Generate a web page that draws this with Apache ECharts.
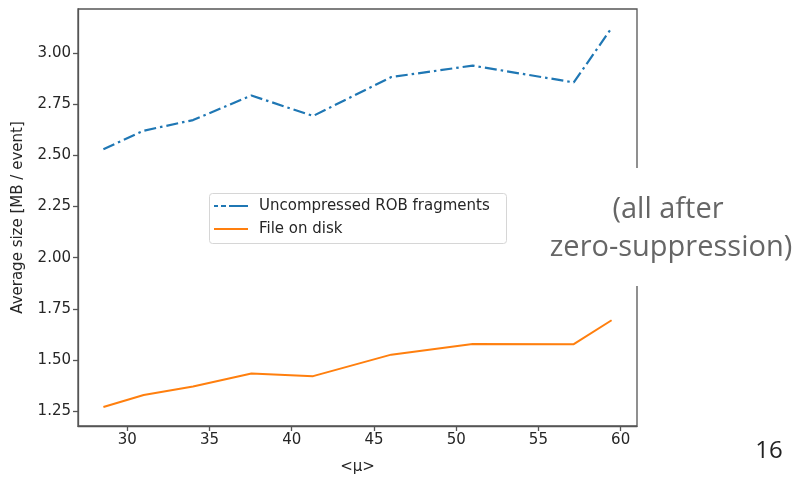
<!DOCTYPE html>
<html>
<head>
<meta charset="utf-8">
<script src="https://cdn.jsdelivr.net/npm/echarts@6/dist/echarts.min.js"></script>
<style>
  html, body { margin: 0; padding: 0; background: #fff; }
  #chart { width: 798px; height: 477px; }
</style>
</head>
<body>
<div id="chart"></div>
<script>
// Mean pile-up <μ> for each run
const mu = [28.55, 31.0, 34.0, 37.55, 41.3, 46.05, 51.0, 57.15, 59.45];
// Average event size in MB
const uncompressedROB = [2.53, 2.62, 2.672, 2.792, 2.692, 2.882, 2.938, 2.856, 3.122];
const fileOnDisk = [1.27, 1.329, 1.37, 1.434, 1.421, 1.526, 1.578, 1.577, 1.694];

const xTicks = [30, 35, 40, 45, 50, 55, 60];
const yTicks = [1.25, 1.50, 1.75, 2.00, 2.25, 2.50, 2.75, 3.00];

const seriesNames = ['Uncompressed ROB fragments', 'File on disk'];

// axis limits padded by 5% of the data range on each side
function padded(values) {
  const lo = Math.min(...values), hi = Math.max(...values);
  const m = (hi - lo) * 0.05;
  return [lo - m, hi + m];
}
const [xMin, xMax] = padded(mu);
const [yMin, yMax] = padded(uncompressedROB.concat(fileOnDisk));

const pairs = (xs, ys) => xs.map((x, i) => [x, ys[i]]);

const ink = '#262626';
const tickFont = { fontFamily: 'DejaVu Sans', fontSize: 15, color: ink };
const spine = { color: '#555', width: 1.3 };
const slideFont = 'Open Sans';

const lineStyles = [
  { color: '#1f77b4', width: 2.2, type: [12, 4, 2.5, 4], cap: 'butt' },
  { color: '#ff7f0e', width: 2, type: 'solid' }
];

// legend box drawn as graphic elements
const legendBox = { x: 209, y: 193, w: 297, h: 50 };
const legendGraphics = [
  {
    type: 'rect', z: 50,
    shape: { x: legendBox.x + 0.5, y: legendBox.y + 0.5, width: legendBox.w, height: legendBox.h, r: 3 },
    style: { fill: 'rgba(255,255,255,0.9)', stroke: '#d6d6d6', lineWidth: 1 }
  }
];
seriesNames.forEach((name, i) => {
  const cy = legendBox.y + 13 + i * 23;
  const ls = lineStyles[i];
  legendGraphics.push({
    type: 'line', z: 51,
    shape: { x1: legendBox.x + 5, y1: cy, x2: legendBox.x + 39, y2: cy },
    style: {
      stroke: ls.color, lineWidth: ls.width,
      lineDash: Array.isArray(ls.type) ? [4, 3, 5, 3, 20] : null
    }
  });
  legendGraphics.push({
    type: 'text', z: 51, x: legendBox.x + 50, y: cy,
    style: { text: name, textVerticalAlign: 'middle', fontFamily: 'DejaVu Sans', fontSize: 15, fill: ink }
  });
});

const chart = echarts.init(document.getElementById('chart'), null, { renderer: 'canvas' });
chart.setOption({
  animation: false,
  backgroundColor: '#fff',
  grid: {
    left: 78, top: 9, right: 161, bottom: 51, show: true,
    borderColor: '#555', borderWidth: 1.3,
    containLabel: false, outerBoundsMode: 'none'
  },
  xAxis: {
    type: 'value', min: xMin, max: xMax,
    name: '<μ>', nameLocation: 'middle', nameGap: 34,
    nameTextStyle: { fontFamily: 'DejaVu Sans', fontSize: 15, color: ink },
    axisLine: { show: true, lineStyle: spine },
    axisTick: { show: true, inside: false, length: 5, customValues: xTicks, lineStyle: spine },
    axisLabel: { customValues: xTicks, margin: 7, ...tickFont, formatter: v => String(v) },
    splitLine: { show: false }
  },
  yAxis: {
    type: 'value', min: yMin, max: yMax,
    name: 'Average size [MB / event]', nameLocation: 'middle', nameGap: 52, nameRotate: 90,
    nameTextStyle: { fontFamily: 'DejaVu Sans', fontSize: 15, color: ink },
    axisLine: { show: true, lineStyle: spine },
    axisTick: { show: true, inside: false, length: 5, customValues: yTicks, lineStyle: spine },
    axisLabel: { customValues: yTicks, margin: 7, ...tickFont, formatter: v => v.toFixed(2) },
    splitLine: { show: false }
  },
  series: [
    {
      name: seriesNames[0], type: 'line', data: pairs(mu, uncompressedROB),
      symbol: 'none', color: lineStyles[0].color, lineStyle: lineStyles[0]
    },
    {
      name: seriesNames[1], type: 'line', data: pairs(mu, fileOnDisk),
      symbol: 'none', color: lineStyles[1].color, lineStyle: lineStyles[1]
    }
  ],
  graphic: legendGraphics.concat([
    {
      type: 'rect', z: 100, shape: { x: 540, y: 168, width: 258, height: 118 },
      style: { fill: '#fff' }
    },
    {
      type: 'text', z: 101, x: 668, y: 210,
      style: { text: '(all after', textAlign: 'center', textVerticalAlign: 'middle',
               fontFamily: slideFont, fontSize: 29, fill: '#666' }
    },
    {
      type: 'text', z: 101, x: 671, y: 248,
      style: { text: 'zero-suppression)', textAlign: 'center', textVerticalAlign: 'middle',
               fontFamily: slideFont, fontSize: 29, fill: '#666' }
    },
    {
      type: 'text', z: 101, x: 769, y: 451,
      style: { text: '16', textAlign: 'center', textVerticalAlign: 'middle',
               fontFamily: slideFont, fontSize: 24, fill: '#222' }
    }
  ])
});
</script>
</body>
</html>
